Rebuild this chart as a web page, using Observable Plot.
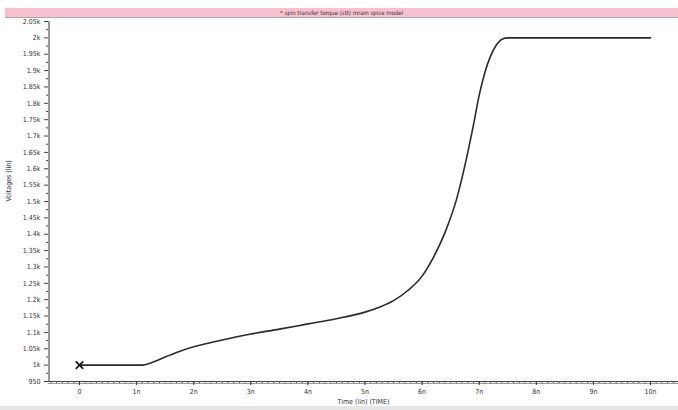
<!DOCTYPE html>
<html>
<head>
<meta charset="utf-8">
<script src="https://cdn.jsdelivr.net/npm/d3@7"></script>
<script src="https://cdn.jsdelivr.net/npm/@observablehq/plot@0.6"></script>
<style>
  html, body { margin: 0; padding: 0; background: #fff; width: 678px; height: 410px; overflow: hidden; position: relative; }
  #title {
    position: absolute; left: 5px; top: 8px; width: 673px; height: 9px;
    background: #f8c1cd; border-bottom: 1px solid #a9a9a9;
    font: 6px "Liberation Sans Narrow", "DejaVu Sans Condensed", "Liberation Sans", sans-serif;
    color: #333; text-align: center; line-height: 9px;
  }
  #chart { position: absolute; left: 0; top: 18px; }
  #bottomband { position: absolute; left: 0; top: 406px; width: 678px; height: 4px; background: #e6e6e6; }
  svg text { font-family: "Liberation Sans Narrow", "DejaVu Sans Condensed", "Liberation Sans", sans-serif; }
</style>
</head>
<body>
<div id="title">* spin transfer torque (stt) mram spice model</div>
<div id="chart"></div>
<div id="bottomband"></div>
<script>
// Time in ns, voltage
const timeNs = [0, 1.1, 1.3, 1.5, 1.75, 2, 2.25, 2.5, 3, 3.5, 4, 4.5, 5, 5.25, 5.5, 5.75, 6, 6.2, 6.4, 6.6, 6.8, 6.9, 7.0, 7.1, 7.2, 7.3, 7.4, 7.5, 10];
const voltage = [1000, 1000, 1010, 1025, 1042, 1056, 1067, 1077, 1095, 1110, 1126, 1142, 1162, 1177, 1197, 1228, 1272, 1330, 1405, 1505, 1650, 1735, 1825, 1895, 1945, 1978, 1996, 2000, 2000];

const yTicks = [950, 1000, 1050, 1100, 1150, 1200, 1250, 1300, 1350, 1400, 1450, 1500, 1550, 1600, 1650, 1700, 1750, 1800, 1850, 1900, 1950, 2000, 2050];
const yTickLabels = ["950", "1k", "1.05k", "1.1k", "1.15k", "1.2k", "1.25k", "1.3k", "1.35k", "1.4k", "1.45k", "1.5k", "1.55k", "1.6k", "1.65k", "1.7k", "1.75k", "1.8k", "1.85k", "1.9k", "1.95k", "2k", "2.05k"];
const xTicks = [0, 1, 2, 3, 4, 5, 6, 7, 8, 9, 10];
const xTickLabels = ["0", "1n", "2n", "3n", "4n", "5n", "6n", "7n", "8n", "9n", "10n"];
const xTitle = "Time (lin) (TIME)";
const yTitle = "Voltages (lin)";

const data = timeNs.map((t, i) => ({t, v: voltage[i]}));
const startPoint = [data[0]];

const xDomain = [-0.543, 10.49];
const yDomain = [950, 2050];
const xMinor = d3.range(-5, 105).map(k => k / 10);
const yMinor = d3.range(975, 2050, 50);

const plot = Plot.plot({
  width: 678,
  height: 392,
  marginLeft: 48,
  marginRight: 0,
  marginTop: 3,
  marginBottom: 29,
  x: {domain: xDomain},
  y: {domain: yDomain},
  style: {fontSize: "7px", color: "#333", background: "transparent"},
  marks: [
    Plot.ruleY([950], {stroke: "#9a9a9a", strokeWidth: 1, dy: 2}),
    Plot.ruleY([950], {stroke: "#444", strokeWidth: 1}),
    Plot.ruleX([xDomain[0]], {stroke: "#333", strokeWidth: 1, dx: 0.5, y1: 950, y2: 2050}),
    Plot.axisY({ticks: yMinor, tickFormat: () => "", tickSize: 2, stroke: "#444", label: null}),
    Plot.axisY({ticks: yTicks, tickFormat: (d, i) => yTickLabels[i], tickSize: 4, tickPadding: 4, stroke: "#444", fill: "#333", fontSize: 7, label: null}),
    Plot.axisX({anchor: "bottom", ticks: xMinor, tickFormat: () => "", tickSize: 2, stroke: "#555", label: null}),
    Plot.axisX({anchor: "bottom", ticks: xTicks, tickFormat: (d, i) => xTickLabels[i], tickSize: 4, tickPadding: 3.5, stroke: "#333", fill: "#333", fontSize: 7, label: null}),
    Plot.text([yTitle], {frameAnchor: "left", rotate: -90, dx: -40, fontSize: 7, fill: "#333"}),
    Plot.text([xTitle], {frameAnchor: "bottom", dy: 22, fontSize: 7, fill: "#333"}),
    Plot.line(data, {x: "t", y: "v", curve: "monotone-x", stroke: "#2a2a2a", strokeWidth: 1.6}),
    Plot.dot(startPoint, {x: "t", y: "v", symbol: "times", r: 3.5, stroke: "#111", strokeWidth: 1.6})
  ]
});
document.getElementById("chart").appendChild(plot);
</script>
</body>
</html>
